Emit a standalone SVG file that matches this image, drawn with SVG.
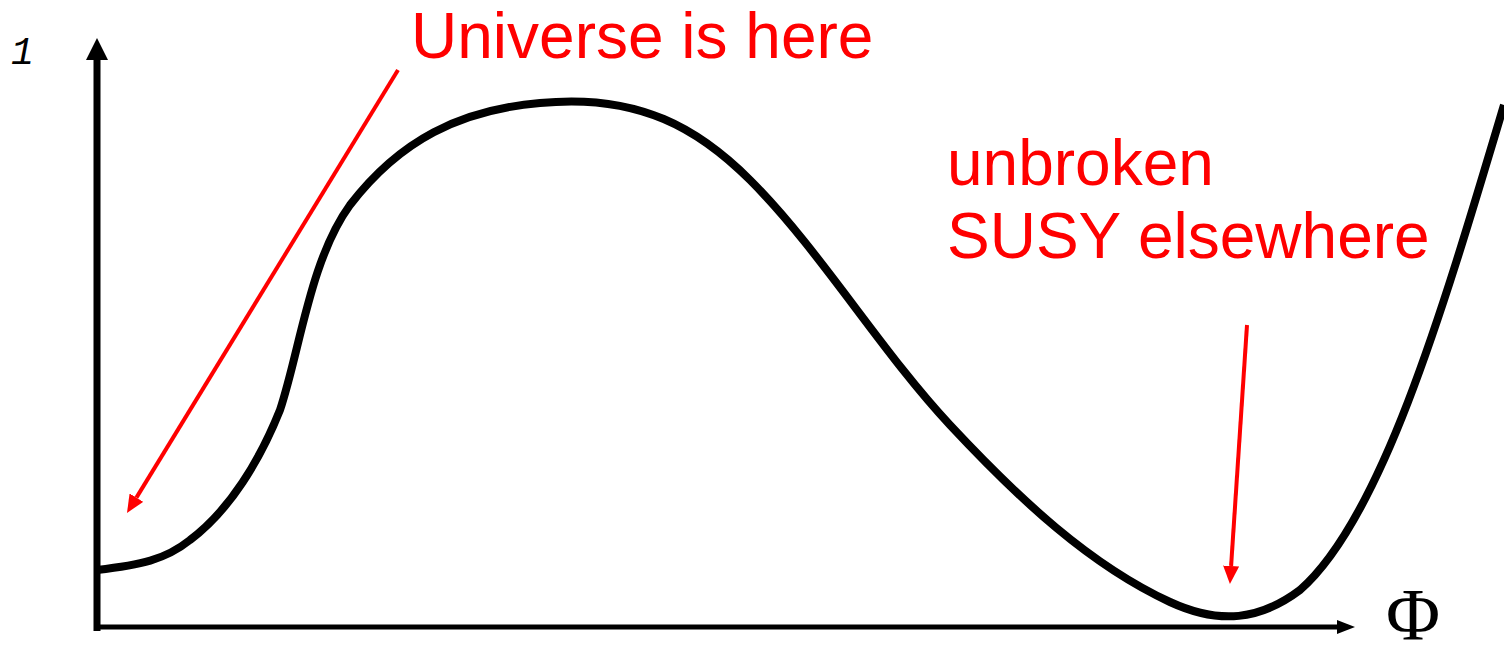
<svg xmlns="http://www.w3.org/2000/svg" width="1504" height="647" viewBox="0 0 1504 647">
<defs>
<marker id="aby" markerWidth="22" markerHeight="22" refX="0" refY="11" orient="auto" markerUnits="userSpaceOnUse"><path d="M0,0 L22,11 L0,22 z" fill="#000"/></marker>
<marker id="abx" markerWidth="18" markerHeight="14" refX="0" refY="7" orient="auto" markerUnits="userSpaceOnUse"><path d="M0,0 L18,7 L0,14 z" fill="#000"/></marker>
<marker id="ar" markerWidth="18" markerHeight="16" refX="0" refY="8" orient="auto" markerUnits="userSpaceOnUse"><path d="M0,0 L18,8 L0,16 z" fill="#f00"/></marker>
</defs>
<style>
.lbl{font-family:"Liberation Sans",Arial,sans-serif;font-size:64px;fill:#f00}
.ax{stroke:#000;fill:none}
.ra{stroke:#f00;stroke-width:4;fill:none}
</style>
<rect width="1504" height="647" fill="#fff"/>
<g id="axes">
<line class="ax" x1="97" y1="631" x2="97" y2="60" stroke-width="7" marker-end="url(#aby)"/>
<line class="ax" x1="94" y1="627" x2="1337" y2="627" stroke-width="5" marker-end="url(#abx)"/>
<text x="11" y="64" font-family="Liberation Mono,monospace" font-style="italic" font-size="38">1</text>
<text x="1386" y="640" font-family="Liberation Serif,serif" font-size="74">Φ</text>
</g>
<g id="curve">
<path d="M97,570 C140,565 165,560 190,540 C230,510 260,460 280,410 C300,350 310,260 350,205 C400,140 460,110 540,103 C640,93 700,130 750,180 C820,250 880,350 950,425 C1020,500 1090,565 1170,602 C1220,625 1260,620 1300,590 C1380,520 1440,320 1504,105" fill="none" stroke="#000" stroke-width="8" stroke-linejoin="round"/>
</g>
<g id="universe">
<text class="lbl" x="411" y="58">Universe is here</text>
</g>
<g id="susy">
<text class="lbl" x="947" y="185">unbroken</text>
<text class="lbl" x="947" y="258">SUSY elsewhere</text>
</g>
<g id="connectors">
<line class="ra" x1="398" y1="70" x2="136.4" y2="497.6" marker-end="url(#ar)"/>
<line class="ra" x1="1247" y1="325" x2="1231.1" y2="566" marker-end="url(#ar)"/>
</g>
</svg>
